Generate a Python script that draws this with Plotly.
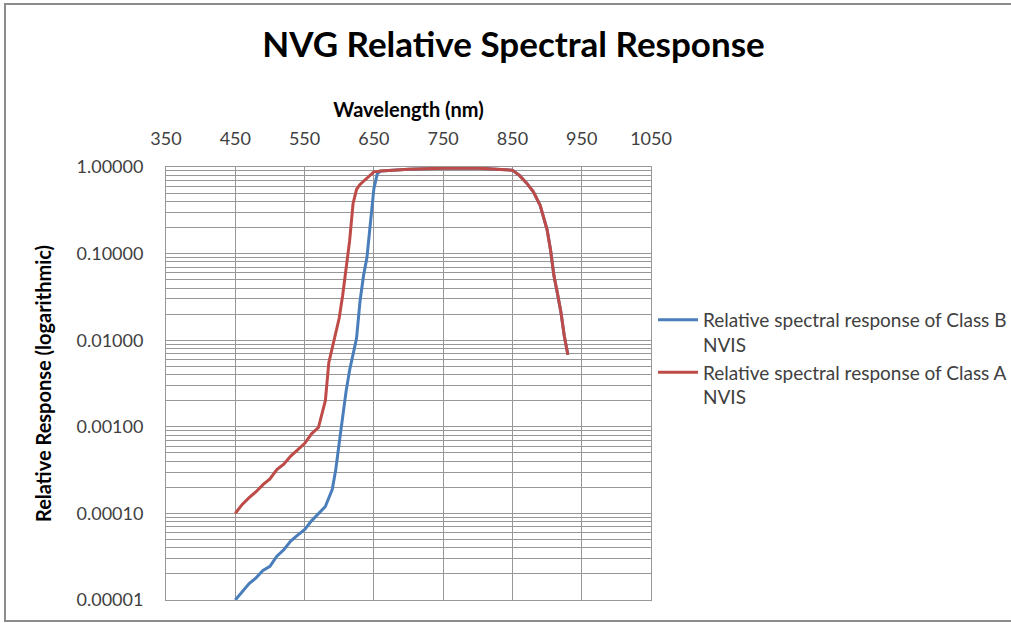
import plotly.graph_objects as go

# Wavelengths (nm) and relative responses of the two NVIS classes
wl_b = [450, 460, 470, 480, 490, 500, 510, 520, 530, 540, 550, 560, 570, 580,
        590, 595, 600, 605, 610, 615, 620, 625, 630, 635, 640, 645, 650, 655,
        660, 700, 750, 800, 850, 860, 870, 880, 890, 900, 905, 910, 915, 920,
        925, 930]
resp_b = [1.0e-5, 1.25e-5, 1.55e-5, 1.8e-5, 2.2e-5, 2.45e-5, 3.2e-5, 3.8e-5,
          4.8e-5, 5.6e-5, 6.5e-5, 8.2e-5, 9.8e-5, 1.2e-4,
          1.9e-4, 3.2e-4, 6.5e-4, 1.4e-3, 2.6e-3, 4.5e-3, 7.1e-3, 1.05e-2,
          2.8e-2, 5.5e-2, 9.0e-2, 2.5e-1, 5.6e-1, 8.4e-1,
          0.90, 0.94, 0.97, 0.97, 0.92, 0.80, 0.66, 0.52, 0.36, 0.19, 0.11,
          0.055, 0.035, 0.021, 0.011, 0.0068]

wl_a = [450, 460, 470, 480, 490, 500, 510, 520, 530, 540, 550, 560, 570, 575,
        580, 585, 590, 595, 600, 605, 610, 615, 620, 625, 630, 640, 650, 660,
        700, 750, 800, 850, 860, 870, 880, 890, 900, 905, 910, 915, 920, 925,
        930]
resp_a = [1.0e-4, 1.27e-4, 1.52e-4, 1.78e-4, 2.15e-4, 2.5e-4, 3.2e-4, 3.7e-4,
          4.6e-4, 5.5e-4, 6.4e-4, 8.3e-4, 9.8e-4, 1.4e-3,
          2.0e-3, 5.5e-3, 8.2e-3, 1.2e-2, 1.8e-2, 3.3e-2, 6.5e-2, 1.4e-1,
          3.8e-1, 5.5e-1, 6.3e-1, 7.4e-1, 8.8e-1, 0.90,
          0.94, 0.97, 0.97, 0.92, 0.80, 0.66, 0.52, 0.36, 0.19, 0.11, 0.055,
          0.035, 0.021, 0.011, 0.0068]

x_ticks = [350, 450, 550, 650, 750, 850, 950, 1050]
y_decades = [1e-5, 1e-4, 1e-3, 1e-2, 1e-1, 1]
y_labels = ["0.00001", "0.00010", "0.00100", "0.01000", "0.10000", "1.00000"]

# Log gridlines at 1..9 x each decade; only the decades carry labels
y_tickvals, y_ticktext = [], []
for d, lab in zip(y_decades, y_labels):
    for k in range(1, 10):
        v = d * k
        if v > 1.0001:
            break
        y_tickvals.append(v)
        y_ticktext.append(lab if k == 1 else "")

FONT = "Lato, 'Open Sans', sans-serif"
GRID = "#979797"

fig = go.Figure()
fig.add_trace(go.Scatter(
    x=wl_b, y=resp_b, mode="lines",
    name="Relative spectral response of Class B<br>NVIS",
    line=dict(color="#4A7EBB", width=3)))
fig.add_trace(go.Scatter(
    x=wl_a, y=resp_a, mode="lines",
    name="Relative spectral response of Class A<br>NVIS",
    line=dict(color="#BE4B48", width=3)))

L, R, T, B = 166, 651, 167, 600
W, H = 1011, 623

fig.update_layout(
    width=W, height=H,
    margin=dict(l=L, r=W - R, t=T, b=H - B, autoexpand=False),
    paper_bgcolor="white", plot_bgcolor="white",
    font=dict(family=FONT, size=18, color="#404040"),
    title=dict(text="<b>NVG Relative Spectral Response</b>",
               x=(262 + 765) / 2 / W, xanchor="center",
               y=1 - 45 / H, yanchor="middle",
               font=dict(family=FONT, size=35, color="black")),
    xaxis=dict(
        side="top", range=[350, 1050], tickvals=x_ticks,
        ticks="", ticklabelstandoff=14,
        showgrid=True, gridcolor=GRID, gridwidth=1,
        showline=True, mirror=True, linecolor=GRID, linewidth=1,
        zeroline=False,
        title=dict(text="<b>Wavelength (nm)</b>", standoff=3,
                   font=dict(family=FONT, size=20, color="black")),
    ),
    yaxis=dict(
        type="log", range=[-5, 0],
        tickvals=y_tickvals, ticktext=y_ticktext,
        ticks="", ticklabelstandoff=18,
        showgrid=True, gridcolor=GRID, gridwidth=1,
        showline=True, mirror=True, linecolor=GRID, linewidth=1,
        zeroline=False,
        title=dict(text="<b>Relative Response (logarithmic)</b>", standoff=19,
                   font=dict(family=FONT, size=20, color="black")),
    ),
    legend=dict(
        x=(653 - L) / (R - L), xanchor="left",
        y=(B - 301) / (B - T), yanchor="top",
        valign="top", bgcolor="rgba(0,0,0,0)", itemwidth=40,
        font=dict(family=FONT, size=19, color="#404040"),
        tracegroupgap=0,
    ),
    showlegend=True,
)

# Outer chart frame
fig.add_shape(type="rect", xref="paper", yref="paper",
              x0=(5 - L) / (R - L), x1=(1030 - L) / (R - L),
              y0=(B - 621) / (B - T), y1=(B - 4) / (B - T),
              line=dict(color="#8C8C8C", width=2), layer="below")

fig.write_html("out.html")
